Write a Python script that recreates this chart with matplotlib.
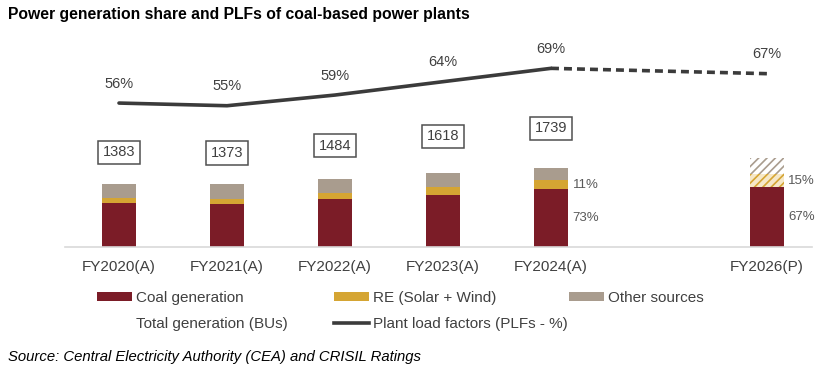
import matplotlib
matplotlib.use("Agg")
import matplotlib.pyplot as plt
import numpy as np
from matplotlib.patches import Patch
from matplotlib.lines import Line2D

# ---- data ----
years = ["FY2020(A)", "FY2021(A)", "FY2022(A)", "FY2023(A)", "FY2024(A)", "FY2026(P)"]
positions = [0, 1, 2, 3, 4, 6]
total_gen = [1383, 1373, 1484, 1618, 1739, 1950]          # BUs
total_labels = ["1383", "1373", "1484", "1618", "1739", None]
coal_share = [69, 68, 70, 70, 73, 67]                     # %
re_share = [8, 9, 10, 11, 11, 15]                         # %
other_share = [23, 23, 20, 19, 16, 18]                    # %
plf = [56, 55, 59, 64, 69, 67]                            # %
share_label_idx = [4, 5]

W, H, DPI = 822, 375, 100
plt.rcParams['font.family'] = ['Liberation Sans', 'DejaVu Sans']
plt.rcParams['hatch.linewidth'] = 1.2

fig = plt.figure(figsize=(W / DPI, H / DPI), dpi=DPI)

def fx(px):
    return px / W

def fy(py):
    return 1 - py / H

ax_left, ax_right, ax_top, ax_bottom = 65, 812, 30, 246.5
ax = fig.add_axes([fx(ax_left), fy(ax_bottom), fx(ax_right - ax_left), (ax_bottom - ax_top) / H])

c_coal = "#7B1C27"
c_re = "#D5A533"
c_other = "#A99C8E"
c_line = "#3B3B3B"
c_text = "#404040"

pos = np.array(positions, dtype=float)
tot = np.array(total_gen, dtype=float)
coal = tot * np.array(coal_share) / 100
re = tot * np.array(re_share) / 100
oth = tot * np.array(other_share) / 100
bw = 0.31

for i in range(len(pos)):
    proj = years[i].endswith("(P)")
    ax.bar(pos[i], coal[i], width=bw, color=c_coal, linewidth=0)
    if proj:
        ax.bar(pos[i], re[i], bottom=coal[i], width=bw, facecolor="#F6E8C8",
               edgecolor=c_re, hatch="////", linewidth=0)
        ax.bar(pos[i], oth[i], bottom=coal[i] + re[i], width=bw, facecolor="white",
               edgecolor=c_other, hatch="////", linewidth=0)
    else:
        ax.bar(pos[i], re[i], bottom=coal[i], width=bw, color=c_re, linewidth=0)
        ax.bar(pos[i], oth[i], bottom=coal[i] + re[i], width=bw, color=c_other, linewidth=0)

# total generation boxes
for i, lab in enumerate(total_labels):
    if lab is None:
        continue
    ax.text(pos[i], tot[i] * 1.5, lab, ha="center", va="center", fontsize=10.5,
            color=c_text,
            bbox=dict(boxstyle="square,pad=0.32", facecolor="white",
                      edgecolor="#505050", linewidth=1.1))

# share labels
for i in share_label_idx:
    ax.annotate(f"{coal_share[i]}%", (pos[i], coal[i] / 2), xytext=(25, 0),
                textcoords="offset points", ha="center", va="center",
                fontsize=9.5, color="#595959")
    ax.annotate(f"{re_share[i]}%", (pos[i], coal[i] + re[i] / 2), xytext=(25, 0),
                textcoords="offset points", ha="center", va="center",
                fontsize=9.5, color="#595959")

ax.set_xlim(-0.5, (ax_right - 119) / 108)
ax.set_ylim(0, (ax_bottom - ax_top) * 22.05)
ax.set_xticks(pos)
ax.set_xticklabels(years, fontsize=11, color=c_text)
ax.tick_params(axis="x", length=0, pad=9.5)
ax.set_yticks([])
for s in ["top", "right", "left"]:
    ax.spines[s].set_visible(False)
ax.spines["bottom"].set_color("#D9D9D9")
ax.spines["bottom"].set_linewidth(1.2)

# PLF line on twin axis
ax2 = ax.twinx()
ax2.set_ylim(2.3, 83.35)
ax2.axis("off")
n_act = sum(1 for y in years if y.endswith("(A)"))
ax2.plot(pos[:n_act], plf[:n_act], color=c_line, lw=2.6, solid_capstyle="round")
ax2.plot(pos[n_act - 1:], plf[n_act - 1:], color=c_line, lw=2.6, dashes=(2.2, 1.4))
for i in range(len(pos)):
    ax2.annotate(f"{plf[i]}%", (pos[i], plf[i]), xytext=(0, 14),
                 textcoords="offset points", ha="center", va="center",
                 fontsize=10.5, color=c_text)

# legend (three columns placed manually)
h_coal = Patch(facecolor=c_coal, edgecolor="none")
h_re = Patch(facecolor=c_re, edgecolor="none")
h_oth = Patch(facecolor=c_other, edgecolor="none")
h_tot = Patch(facecolor="none", edgecolor="none")
h_plf = Line2D([0], [0], color=c_line, lw=2.6)

legend_cols = [
    (97, [h_coal, h_tot], ["Coal generation", "Total generation (BUs)"]),
    (334, [h_re, h_plf], ["RE (Solar + Wind)", "Plant load factors (PLFs - %)"]),
    (569, [h_oth], ["Other sources"]),
]
for xpx, hs, ls in legend_cols:
    leg = fig.legend(hs, ls, loc="upper left", bbox_to_anchor=(fx(xpx), fy(291)),
                     bbox_transform=fig.transFigure, frameon=False, fontsize=11,
                     handlelength=2.3, handleheight=0.6, handletextpad=0.25,
                     borderpad=0, borderaxespad=0, labelspacing=0.78)
    for t in leg.get_texts():
        t.set_color(c_text)

fig.text(fx(8), fy(14), "Power generation share and PLFs of coal-based power plants",
         fontsize=11.35, fontweight="bold", ha="left", va="center", color="black")
fig.text(fx(8), fy(357), "Source: Central Electricity Authority (CEA) and CRISIL Ratings",
         fontsize=10.7, style="italic", ha="left", va="center", color="black")

fig.savefig("out.png", dpi=DPI)
